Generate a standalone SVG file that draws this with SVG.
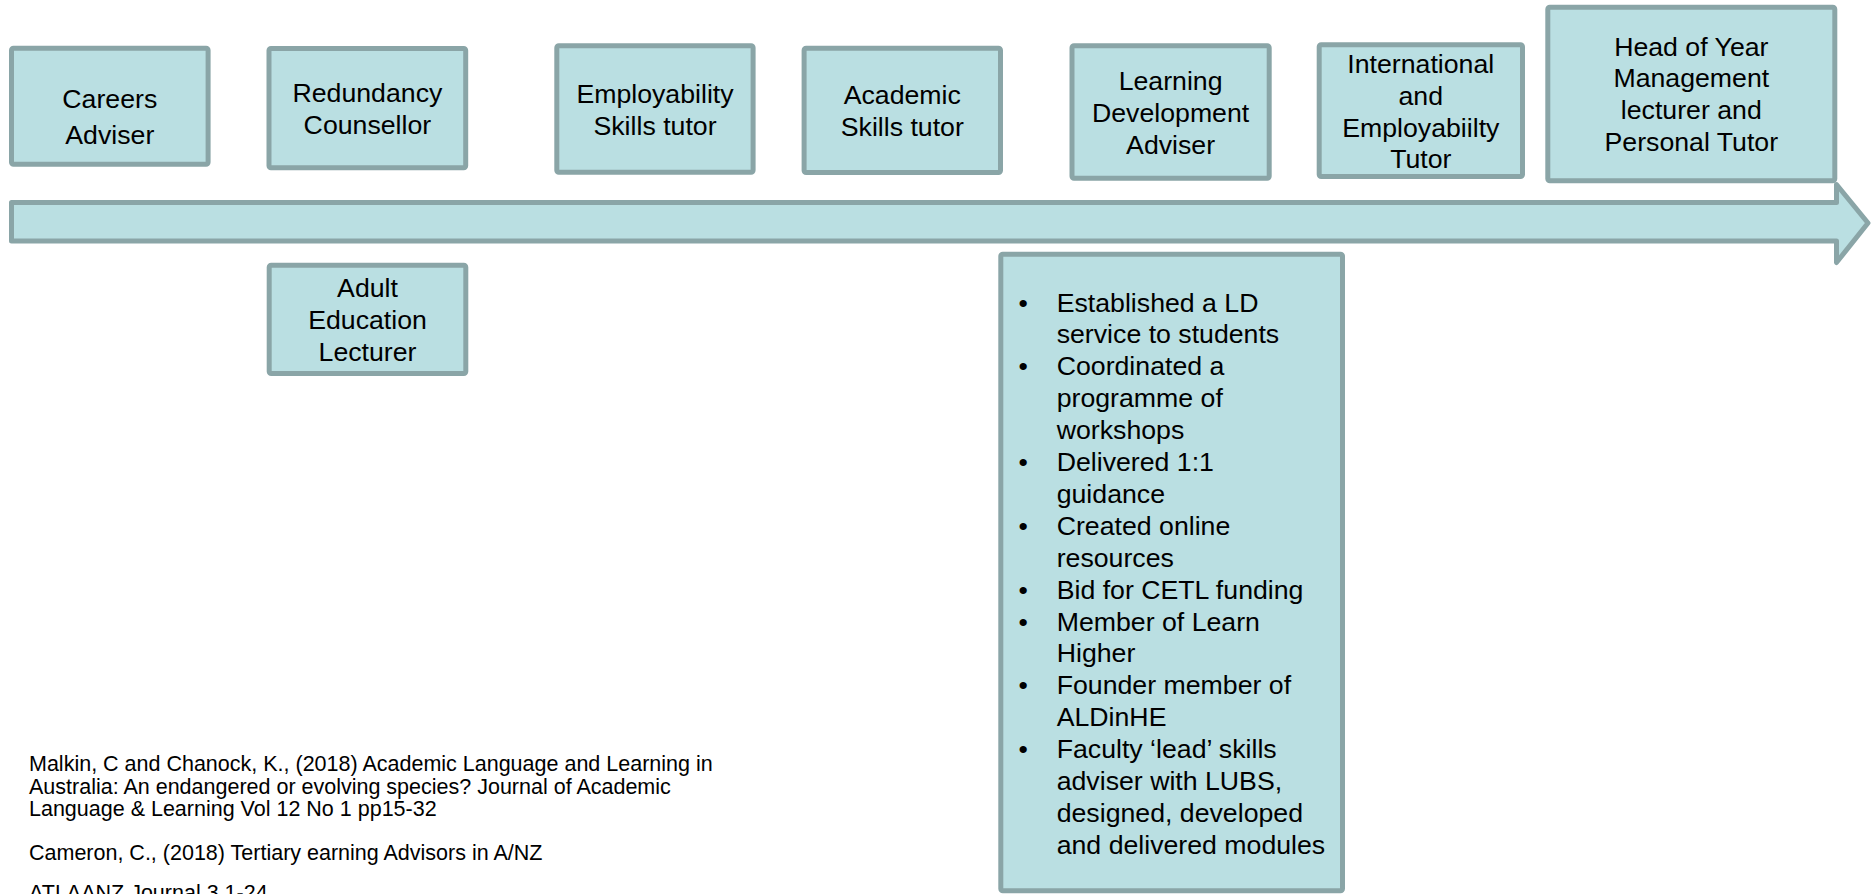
<svg xmlns="http://www.w3.org/2000/svg" width="1872" height="894" viewBox="0 0 1872 894">
<style>
.box{fill:#BADFE2;stroke:#8AA5A7;stroke-width:5;stroke-linejoin:round}
.t{font-family:"Liberation Sans",Arial,sans-serif;font-size:26.7px;fill:#000;text-anchor:middle}
.b{font-family:"Liberation Sans",Arial,sans-serif;font-size:26.7px;fill:#000}
.f{font-family:"Liberation Sans",Arial,sans-serif;font-size:21.5px;fill:#000}
</style>
<rect width="1872" height="894" fill="#fff"/>
<g id="connectors">
<path class="box" d="M11.5,202.5 L1836.5,202.5 L1836.5,184.5 L1868,223 L1836.5,262.5 L1836.5,241 L11.5,241 Z"/>
</g>
<g id="careers">
<rect class="box" x="11.5" y="48.2" width="196.6" height="116" rx="2"/>
<text class="t" x="109.8" y="108.3">Careers</text>
<text class="t" x="109.8" y="144">Adviser</text>
</g>
<g id="redundancy">
<rect class="box" x="269" y="48.5" width="196.7" height="119.3" rx="2"/>
<text class="t" x="367.4" y="101.6">Redundancy</text>
<text class="t" x="367.4" y="133.5">Counsellor</text>
</g>
<g id="employability">
<rect class="box" x="556.8" y="45.8" width="196.3" height="126.4" rx="2"/>
<text class="t" x="655" y="103.3">Employability</text>
<text class="t" x="655" y="135.2">Skills tutor</text>
</g>
<g id="academic">
<rect class="box" x="804.1" y="48.2" width="196.4" height="124.3" rx="2"/>
<text class="t" x="902.3" y="104">Academic</text>
<text class="t" x="902.3" y="136">Skills tutor</text>
</g>
<g id="learning-dev">
<rect class="box" x="1072" y="45.8" width="197.2" height="132.4" rx="2"/>
<text class="t" x="1170.6" y="90">Learning</text>
<text class="t" x="1170.6" y="121.8">Development</text>
<text class="t" x="1170.6" y="153.5">Adviser</text>
</g>
<g id="international">
<rect class="box" x="1319.2" y="44.8" width="203.3" height="131.7" rx="2"/>
<text class="t" x="1420.8" y="73">International</text>
<text class="t" x="1420.8" y="104.8">and</text>
<text class="t" x="1420.8" y="136.6">Employabiilty</text>
<text class="t" x="1420.8" y="168.4">Tutor</text>
</g>
<g id="head-of-year">
<rect class="box" x="1547.8" y="7.2" width="287" height="173.6" rx="2"/>
<text class="t" x="1691.3" y="55.5">Head of Year</text>
<text class="t" x="1691.3" y="87.3">Management</text>
<text class="t" x="1691.3" y="119.1">lecturer and</text>
<text class="t" x="1691.3" y="150.9">Personal Tutor</text>
</g>
<g id="adult-education">
<rect class="box" x="269.2" y="265.2" width="196.6" height="108.3" rx="2"/>
<text class="t" x="367.5" y="296.7">Adult</text>
<text class="t" x="367.5" y="328.8">Education</text>
<text class="t" x="367.5" y="360.9">Lecturer</text>
</g>
<g id="ld-details">
<rect class="box" x="1000.8" y="254.2" width="341.7" height="636.5" rx="2"/>
<text class="b" x="1018.5" y="311.5">•</text>
<text class="b" x="1056.7" y="311.5">Established a LD</text>
<text class="b" x="1056.7" y="343.4">service to students</text>
<text class="b" x="1018.5" y="375.3">•</text>
<text class="b" x="1056.7" y="375.3">Coordinated a</text>
<text class="b" x="1056.7" y="407.2">programme of</text>
<text class="b" x="1056.7" y="439.1">workshops</text>
<text class="b" x="1018.5" y="471">•</text>
<text class="b" x="1056.7" y="471">Delivered 1:1</text>
<text class="b" x="1056.7" y="502.9">guidance</text>
<text class="b" x="1018.5" y="534.8">•</text>
<text class="b" x="1056.7" y="534.8">Created online</text>
<text class="b" x="1056.7" y="566.7">resources</text>
<text class="b" x="1018.5" y="598.6">•</text>
<text class="b" x="1056.7" y="598.6">Bid for CETL funding</text>
<text class="b" x="1018.5" y="630.5">•</text>
<text class="b" x="1056.7" y="630.5">Member of Learn</text>
<text class="b" x="1056.7" y="662.4">Higher</text>
<text class="b" x="1018.5" y="694.3">•</text>
<text class="b" x="1056.7" y="694.3">Founder member of</text>
<text class="b" x="1056.7" y="726.2">ALDinHE</text>
<text class="b" x="1018.5" y="758.1">•</text>
<text class="b" x="1056.7" y="758.1">Faculty ‘lead’ skills</text>
<text class="b" x="1056.7" y="790">adviser with LUBS,</text>
<text class="b" x="1056.7" y="821.9">designed, developed</text>
<text class="b" x="1056.7" y="853.8">and delivered modules</text>
</g>
<g id="references">
<text class="f" x="29" y="771">Malkin, C and Chanock, K., (2018) Academic Language and Learning in</text>
<text class="f" x="29" y="793.5">Australia: An endangered or evolving species? Journal of Academic</text>
<text class="f" x="29" y="816">Language &amp; Learning Vol 12 No 1 pp15-32</text>
<text class="f" x="29" y="860">Cameron, C., (2018) Tertiary earning Advisors in A/NZ</text>
<text class="f" x="29" y="900">ATLAANZ Journal 3 1-24</text>
</g>
</svg>
